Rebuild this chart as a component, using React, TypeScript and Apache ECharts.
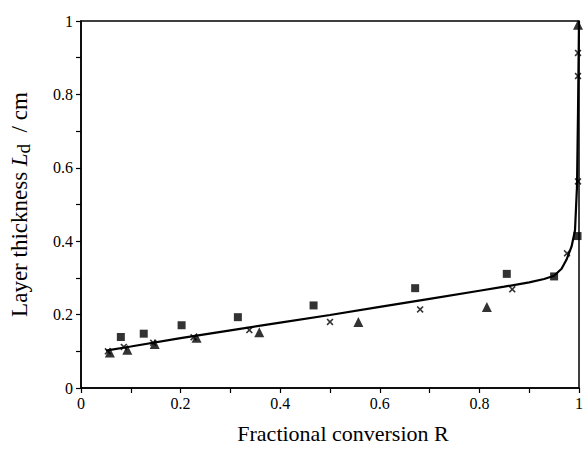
import React, { useEffect, useRef } from "react";
import * as echarts from "echarts";

const squareR = [0.08, 0.126, 0.202, 0.315, 0.467, 0.671, 0.855, 0.95, 0.997];
const squareL = [0.139, 0.148, 0.171, 0.193, 0.225, 0.272, 0.311, 0.304, 0.414];

const triangleR = [0.058, 0.093, 0.148, 0.232, 0.358, 0.557, 0.815, 0.998];
const triangleL = [0.097, 0.104, 0.12, 0.137, 0.152, 0.18, 0.221, 0.99];

const crossR = [0.054, 0.086, 0.145, 0.226, 0.338, 0.5, 0.681, 0.866, 0.976, 0.998, 0.998, 0.998];
const crossL = [0.1, 0.112, 0.123, 0.138, 0.158, 0.18, 0.214, 0.269, 0.367, 0.913, 0.85, 0.563];

const curveR = [0.05, 0.1, 0.2, 0.3, 0.4, 0.5, 0.6, 0.7, 0.8, 0.85, 0.9, 0.93, 0.95, 0.965, 0.975, 0.985, 0.992, 0.996, 0.998, 1.0];
const curveL = [0.102, 0.113, 0.136, 0.157, 0.178, 0.199, 0.221, 0.243, 0.265, 0.276, 0.288, 0.297, 0.306, 0.325, 0.35, 0.385, 0.43, 0.55, 0.75, 1.0];

const tickLabels = ["0", "0.2", "0.4", "0.6", "0.8", "1"];

const FONT = '"Liberation Serif", "DejaVu Serif", "Times New Roman", serif';
const CROSS =
  "path://M0,1.6L1.6,0L5,3.4L8.4,0L10,1.6L6.6,5L10,8.4L8.4,10L5,6.6L1.6,10L0,8.4L3.4,5Z";

const zip = (a: number[], b: number[]) => a.map((v, i) => [v, b[i]]);

export default function App() {
  const ref = useRef<HTMLDivElement>(null);
  useEffect(() => {
    document.body.style.margin = "0";
    const chart = echarts.init(ref.current!, null, { renderer: "svg" });
    const fmt = (v: number) => {
      const i = Math.round(v * 5);
      return Math.abs(v * 5 - i) < 1e-6 && i >= 0 && i < tickLabels.length ? tickLabels[i] : "";
    };
    const axisCommon = {
      min: 0,
      max: 1,
      interval: 0.2,
      axisLine: { show: true, lineStyle: { color: "#000", width: 1.5 } },
      axisTick: { show: true, inside: false, length: 5, lineStyle: { color: "#000", width: 1.2 } },
      minorTick: { show: true, splitNumber: 2, length: 5, lineStyle: { color: "#000", width: 1.2 } },
      splitLine: { show: false },
      axisLabel: { color: "#000", fontFamily: FONT, fontSize: 16, formatter: fmt },
      nameTextStyle: { color: "#000", fontFamily: FONT, fontSize: 22 },
    };
    chart.setOption({
      animation: false,
      backgroundColor: "#fff",
      grid: {
        left: 80,
        right: 2,
        top: 21,
        bottom: 57,
        show: true,
        borderColor: "#000",
        borderWidth: 1.5,
      },
      xAxis: {
        type: "value",
        ...axisCommon,
        axisLabel: { ...axisCommon.axisLabel, margin: 7 },
        name: "Fractional conversion R",
        nameLocation: "middle",
        nameGap: 34,
        nameTextStyle: { ...axisCommon.nameTextStyle, padding: [0, 0, 0, 26] },
      },
      yAxis: {
        type: "value",
        ...axisCommon,
        axisLabel: { ...axisCommon.axisLabel, margin: 8 },
        name: "{a|Layer thickness }{i|L}{s|d}{a|  / cm}",
        nameLocation: "middle",
        nameGap: 48,
        nameTextStyle: {
          ...axisCommon.nameTextStyle,
          rich: {
            a: { fontFamily: FONT, fontSize: 23, color: "#000" },
            i: { fontFamily: FONT, fontSize: 23, fontStyle: "italic", color: "#000" },
            s: { fontFamily: FONT, fontSize: 19, color: "#000", verticalAlign: "bottom", padding: [8, 0, 0, 0] },
          },
        },
      },
      series: [
        {
          type: "line",
          data: zip(curveR, curveL),
          showSymbol: false,
          symbol: "none",
          lineStyle: { color: "#000", width: 2.2 },
          z: 3,
        },
        {
          type: "scatter",
          data: zip(squareR, squareL),
          symbol: "rect",
          symbolSize: 8,
          itemStyle: { color: "#000" },
          z: 4,
        },
        {
          type: "scatter",
          data: zip(triangleR, triangleL),
          symbol: "triangle",
          symbolSize: 10,
          itemStyle: { color: "#000" },
          z: 4,
        },
        {
          type: "scatter",
          data: zip(crossR, crossL),
          symbol: CROSS,
          symbolSize: 7,
          itemStyle: { color: "#000" },
          z: 4,
        },
      ],
    });
    return () => chart.dispose();
  }, []);
  return <div ref={ref} style={{ width: 586, height: 449 }} />;
}
